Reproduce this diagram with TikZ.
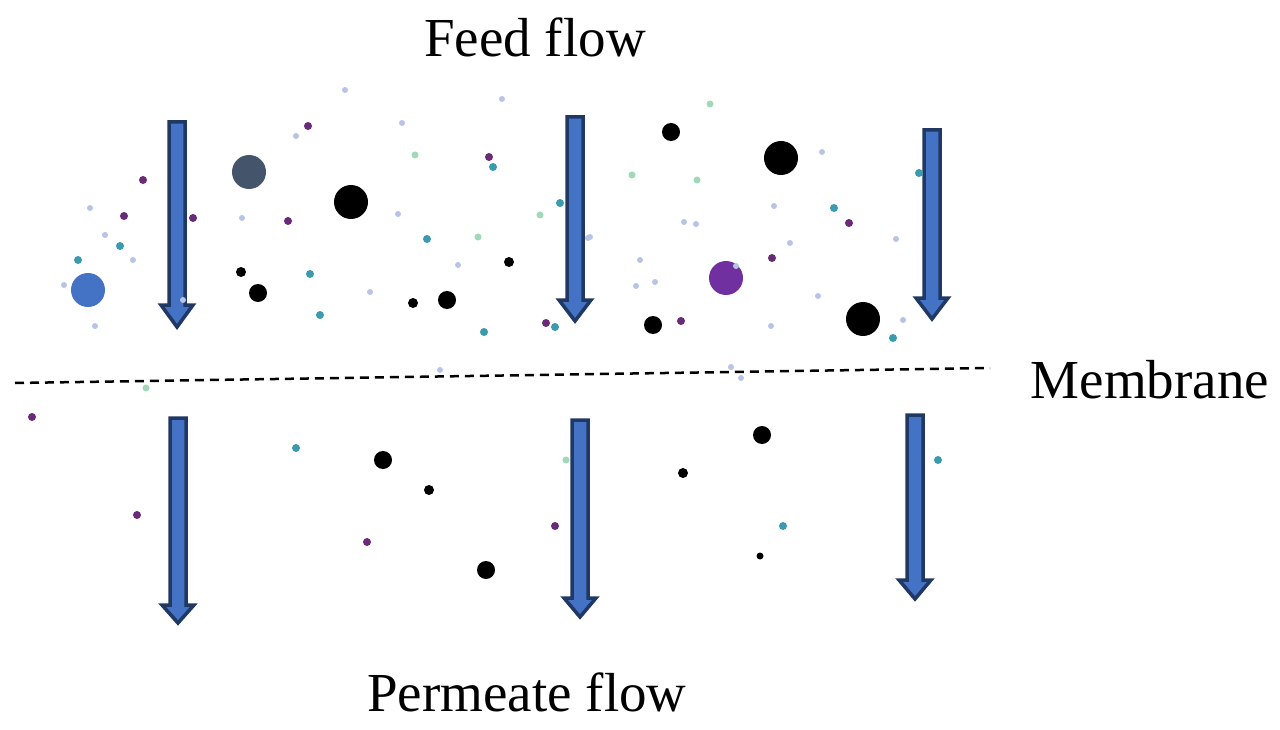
\documentclass[tikz,border=0pt]{standalone}
\usepackage{fontspec}
\setmainfont{Liberation Serif}
\begin{document}
\begin{tikzpicture}[x=1pt,y=-1pt,
  blk/.style={fill=arrowblue,draw=arrownavy,line width=3.5pt,line join=miter},
  lbl/.style={font=\fontsize{55}{60}\selectfont}]
\definecolor{arrowblue}{HTML}{4472C4}
\definecolor{arrownavy}{HTML}{1F3864}
\definecolor{slate}{HTML}{44546A}
\definecolor{purp}{HTML}{7030A0}
\definecolor{teal}{HTML}{3A9AAE}
\definecolor{mint}{HTML}{9FD9B8}
\definecolor{lilac}{HTML}{B8C4E6}
\definecolor{plum}{HTML}{6A2A7A}
\useasboundingbox (0,0) rectangle (1280,730);
\fill[white] (0,0) rectangle (1280,730);
\newcommand{\blkarrow}[4]{% cx, ytop, yhead, ytip
  \draw[blk] (#1-8,#2) -- (#1+8,#2) -- (#1+8,#3) -- (#1+16,#3) -- (#1,#4) -- (#1-16,#3) -- (#1-8,#3) -- cycle;}
\blkarrow{177}{122}{305}{327}
\blkarrow{575}{117}{300}{321}
\blkarrow{932}{130}{298}{319}
\blkarrow{178}{418}{605}{623}
\blkarrow{580}{420}{598}{617}
\blkarrow{915}{415}{580}{599}
\draw[dashed,line width=2.5pt,dash pattern=on 9pt off 6pt] (15,383) coordinate (m1) -- (990,368) coordinate (m2);
\node[lbl] (feed) at (535,37) {Feed flow};
\node[lbl] (mem) at (1150,380) {Membrane};
\node[lbl] (perm) at (527,692) {Permeate flow};
% large particles
\fill[arrowblue] (88,290) circle (17);
\fill[slate] (249,172) circle (17);
\fill[black] (351,202) circle (17);
\fill[black] (781,158) circle (17);
\fill[black] (863,319) circle (17);
\fill[purp] (726,278) circle (17);
% black medium/small
\foreach \p in {(671,132),(258,293),(447,300),(653,325),(383,460),(486,570),(762,435)} \fill[black] \p circle (9);
\foreach \p in {(241,272),(509,262),(413,303),(429,490),(683,473)} \fill[black] \p circle (5);
\fill[black] (760,556) circle (3.5);
% tiny colored particles
\foreach \p in {(143,180),(124,216),(193,218),(288,221),(308,126),(489,157),(546,323),(681,321),(849,223),(772,258),(32,417),(137,515),(367,542),(555,526)} \fill[plum] \p circle (4);
\foreach \p in {(78,260),(427,239),(484,332),(560,203),(834,208),(893,338),(919,173),(938,460),(783,526),(296,448),(493,167),(320,315),(555,327),(120,246),(310,274)} \fill[teal] \p circle (4);
\foreach \p in {(415,155),(478,237),(632,175),(540,215),(697,180),(566,460),(146,388),(710,104)} \fill[mint] \p circle (3.5);
\foreach \p in {(90,208),(105,235),(133,260),(242,218),(296,136),(402,123),(398,214),(458,265),(370,292),(502,99),(588,238),(640,260),(655,282),(636,286),(684,222),(696,224),(774,206),(790,243),(822,152),(818,296),(896,239),(903,320),(771,326),(736,266),(741,378),(731,367),(440,370),(590,237),(95,326),(64,285),(345,90),(183,300)} \fill[lilac] \p circle (3);
\end{tikzpicture}
\end{document}
